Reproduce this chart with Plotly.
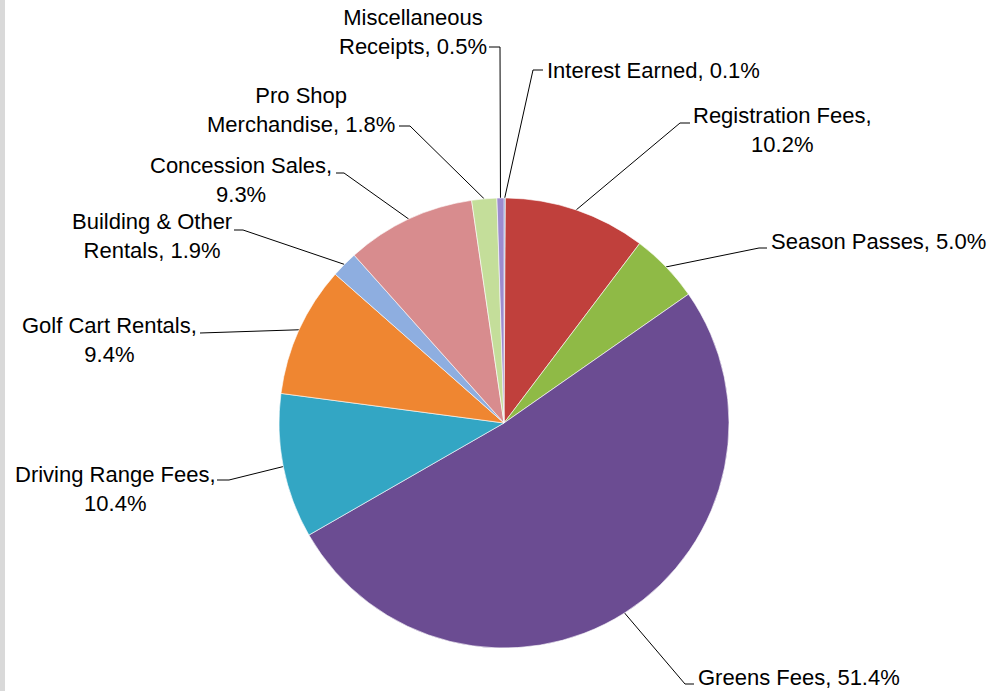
import math
import plotly.graph_objects as go

# data, clockwise from 12 o'clock
categories = ["Interest Earned", "Registration Fees", "Season Passes", "Greens Fees",
              "Driving Range Fees", "Golf Cart Rentals", "Building & Other Rentals",
              "Concession Sales", "Pro Shop Merchandise", "Miscellaneous Receipts"]
shares = [0.1, 10.2, 5.0, 51.4, 10.4, 9.4, 1.9, 9.3, 1.8, 0.5]

# how the names wrap on the chart, and whether the % goes on its own line
display_names = ["Interest Earned", "Registration Fees", "Season Passes", "Greens Fees",
                 "Driving Range Fees", "Golf Cart Rentals", "Building & Other<br>Rentals",
                 "Concession Sales", "Pro Shop<br>Merchandise", "Miscellaneous<br>Receipts"]
pct_on_new_line = [False, True, False, False, True, True, False, True, False, False]

colors = ["#4f81bd", "#c0403c", "#8fba46", "#6b4c92", "#33a6c4",
          "#ef8631", "#8eaee0", "#d88c8e", "#c4de9a", "#9d8ccf"]

W, H = 990, 691
CX, CY, R = 504, 423, 225  # pie centre / radius in pixels

# label placement: text x, text y, xanchor, leader elbow, leader end (pixels)
placement = [
    (545, 70, "left", (533, 70), (543, 70)),
    (782, 130, "center", (680, 123), (690, 123)),
    (769, 241, "left", (759, 248), (767, 248)),
    (696, 677, "left", (685, 684), (694, 684)),
    (115, 489, "center", (229, 480), (217, 480)),
    (109, 340, "center", (212, 333), (200, 333)),
    (152, 236, "center", (243, 230), (234, 230)),
    (241, 180, "center", (344, 173), (336, 173)),
    (301, 110, "center", (410, 126), (399, 126)),
    (413, 32, "center", (500, 47), (489, 47)),
]

total = sum(shares)

fig = go.Figure()
fig.add_trace(go.Pie(
    labels=categories,
    values=shares,
    sort=False,
    direction="clockwise",
    rotation=0,
    textinfo="none",
    hoverinfo="label+percent",
    marker=dict(colors=colors, line=dict(color="rgba(255,255,255,0.6)", width=1)),
    domain=dict(x=[(CX - R) / W, (CX + R) / W], y=[1 - (CY + R) / H, 1 - (CY - R) / H]),
    showlegend=False,
))

# leader lines from the middle of each slice's arc to its label
lx, ly = [], []
annotations = []
cum = 0.0
for name, share, brk, (tx, ty, anchor, elbow, end) in zip(
        display_names, shares, pct_on_new_line, placement):
    mid = (cum + share / 2) / total * 2 * math.pi
    cum += share
    tip = (CX + R * math.sin(mid), CY - R * math.cos(mid))
    lx += [tip[0], elbow[0], end[0], None]
    ly += [tip[1], elbow[1], end[1], None]
    text = f"{name},{'<br>' if brk else ' '}{share:.1f}%"
    annotations.append(dict(
        x=tx, y=ty, xref="x", yref="y", text=text, showarrow=False,
        xanchor=anchor, yanchor="middle", align="center",
        font=dict(family="Liberation Sans, Arial", size=22, color="#000000"),
    ))

fig.add_trace(go.Scatter(
    x=lx, y=ly, mode="lines",
    line=dict(color="#000000", width=1),
    hoverinfo="skip", showlegend=False,
))

fig.update_layout(
    width=W, height=H,
    margin=dict(l=0, r=0, t=0, b=0),
    paper_bgcolor="white",
    plot_bgcolor="rgba(0,0,0,0)",
    xaxis=dict(range=[0, W], visible=False, fixedrange=True),
    yaxis=dict(range=[H, 0], visible=False, fixedrange=True),
    annotations=annotations,
    shapes=[dict(type="rect", xref="paper", yref="paper", x0=0, x1=5 / W, y0=0, y1=1,
                 fillcolor="#d9d9d9", line=dict(width=0), layer="below")],
)

# drop the page's default body margin so the figure sits at the top-left corner
fig.write_html("out.html", config={"displayModeBar": False},
               post_script="document.body.style.margin='0';")
